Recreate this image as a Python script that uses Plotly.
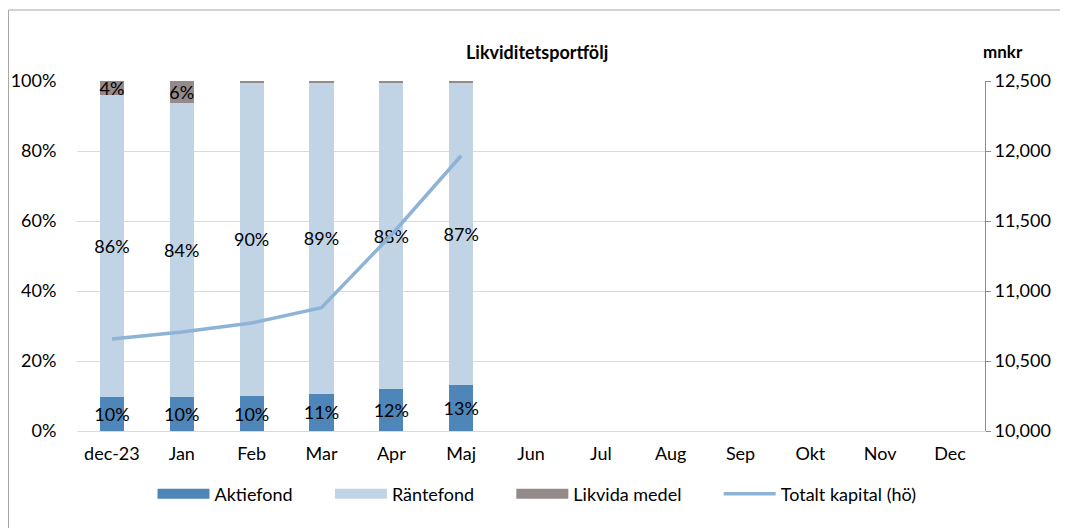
import plotly.graph_objects as go

# data
months = ["dec-23", "Jan", "Feb", "Mar", "Apr", "Maj", "Jun", "Jul", "Aug", "Sep", "Okt", "Nov", "Dec"]
aktiefond = [9.7, 9.8, 9.9, 10.6, 12.0, 13.1]
rantefond = [86.3, 84.0, 89.8, 89.1, 87.7, 86.6]
likvida = [4.0, 6.2, 0.3, 0.3, 0.3, 0.3]
totalt_kapital = [10657, 10707, 10771, 10881, 11400, 11966]

FONT = "Lato"
GRID = "#d9d9d9"
FS = 18
PAD = "\u00a0" * 7  # extra room between legend entries


def labels(vals):
    return [f"{v:.0f}%" if v >= 1 else "" for v in vals]


x = months[:len(aktiefond)]

fig = go.Figure()

for name, vals, col in [("Aktiefond", aktiefond, "#4f86ba"),
                        ("Räntefond", rantefond, "#c0d4e6"),
                        ("Likvida medel", likvida, "#948a8a")]:
    fig.add_trace(go.Bar(x=x, y=vals, name=name, marker=dict(color=col, line=dict(width=0)),
                         text=labels(vals), textposition="inside", insidetextanchor="middle",
                         textangle=0, constraintext="none",
                         insidetextfont=dict(color="black", size=FS, family=FONT),
                         showlegend=False, hoverinfo="skip"))
    # wide rectangle legend key
    fig.add_trace(go.Scatter(x=[None], y=[None], name=name + PAD, mode="lines",
                             line=dict(color=col, width=11)))

fig.add_trace(go.Scatter(x=x, y=totalt_kapital, name="Totalt kapital (hö)", yaxis="y2",
                         mode="lines", line=dict(color="#8db3d6", width=3.5)))

fig.update_layout(
    width=1060, height=520,
    barmode="stack", bargap=0.655,
    plot_bgcolor="white", paper_bgcolor="white",
    margin=dict(l=69, r=83, t=73, b=97, autoexpand=False),
    font=dict(family=FONT, size=FS, color="black"),
    xaxis=dict(categoryorder="array", categoryarray=months, range=[-0.5, 12.5],
               tickvals=months, ticktext=months,
               showline=True, linecolor=GRID, linewidth=1,
               ticks="outside", ticklen=6, tickcolor="rgba(0,0,0,0)", showgrid=False),
    yaxis=dict(range=[0, 100], dtick=20, ticksuffix="%", showgrid=True, gridcolor=GRID,
               zeroline=False, showline=False,
               ticks="outside", ticklen=16, tickcolor="rgba(0,0,0,0)"),
    yaxis2=dict(range=[10000, 12500], dtick=500, tickformat=",", overlaying="y", side="right",
                showgrid=False, zeroline=False, showline=True, linecolor="#8c8c8c",
                ticks="outside", ticklen=5, tickcolor="#8c8c8c"),
    legend=dict(orientation="h", x=0.5066, xanchor="center", y=-0.18, yanchor="middle",
                font=dict(size=FS), traceorder="normal", itemwidth=52),
    showlegend=True,
)

fig.add_annotation(text="<b>Likviditetsportfölj</b>", xref="paper", yref="paper",
                   x=0.5066, y=1.083, xanchor="center", yanchor="middle",
                   showarrow=False, font=dict(size=FS))
fig.add_annotation(text="<b>mnkr</b>", xref="paper", yref="paper",
                   x=1.0198, y=1.083, xanchor="center", yanchor="middle",
                   showarrow=False, font=dict(size=FS - 1))
fig.add_shape(type="rect", xref="paper", yref="paper",
              x0=-0.0754, x1=1.0903, y0=-0.283, y1=1.2029,
              line=dict(color="#a6a6a6", width=1))

fig.write_html("out.html")
